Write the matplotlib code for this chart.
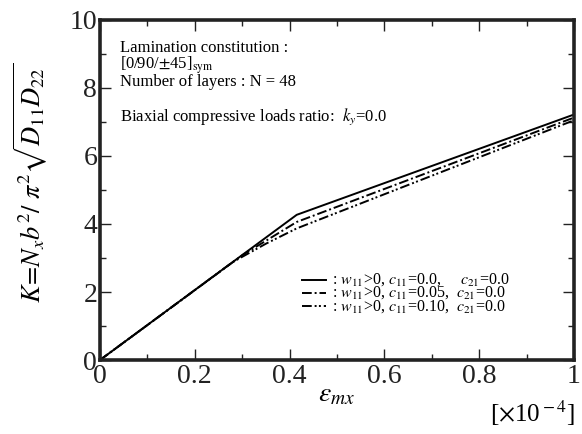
import matplotlib
matplotlib.use("Agg")
import matplotlib.pyplot as plt
from matplotlib.ticker import MultipleLocator, FuncFormatter

plt.rcParams['font.family'] = ['Liberation Serif', 'DejaVu Serif']
plt.rcParams['mathtext.fontset'] = 'stix'

# strain (x 1e-4) and buckling coefficient K
eps_c0 = [0.0, 0.415, 1.0]
k_c0 = [0.0, 4.27, 7.22]

eps_c05 = [0.0, 0.30, 0.415, 1.0]
k_c05 = [0.0, 3.08, 4.06, 7.13]

eps_c10 = [0.0, 0.28, 0.35, 0.415, 1.0]
k_c10 = [0.0, 2.88, 3.42, 3.87, 7.05]

labels = [r': $w_{\rm 11}$>0, $c_{\rm 11}$=0.0,     $c_{\rm 21}$=0.0',
          r': $w_{\rm 11}$>0, $c_{\rm 11}$=0.05,  $c_{\rm 21}$=0.0',
          r': $w_{\rm 11}$>0, $c_{\rm 11}$=0.10,  $c_{\rm 21}$=0.0']

fig = plt.figure(figsize=(5.82, 4.34), dpi=100)
ax = fig.add_axes([100/582, 1-360/434, 474/582, 340/434])

styles = ['-', (0, (5, 1.5, 1, 1.5)), (0, (5, 1.5, 1, 1.2, 1, 1.5))]
series = [(eps_c0, k_c0), (eps_c05, k_c05), (eps_c10, k_c10)]
for (x, y), ls in zip(series, styles):
    ax.plot(x, y, color='black', lw=1.4, ls=ls, solid_capstyle='butt')

ax.set_xlim(0, 1)
ax.set_ylim(0, 10)
ax.xaxis.set_major_locator(MultipleLocator(0.2))
ax.xaxis.set_minor_locator(MultipleLocator(0.1))
ax.yaxis.set_major_locator(MultipleLocator(2))
ax.yaxis.set_minor_locator(MultipleLocator(1))
ax.xaxis.set_major_formatter(FuncFormatter(lambda v, p: '%g' % v))
ax.yaxis.set_major_formatter(FuncFormatter(lambda v, p: '%g' % v))
ax.tick_params(which='both', direction='in', top=True, right=True,
               width=1.0, labelsize=20, colors='#222222')
ax.tick_params(which='major', length=8)
ax.tick_params(which='minor', length=4)
ax.tick_params(axis='y', pad=2)
ax.tick_params(axis='x', pad=3)
for s in ax.spines.values():
    s.set_linewidth(2.6)
    s.set_color('#222222')

ax.set_ylabel(r'$K\!=\!N_xb^2/\ \pi^2\sqrt{D_{11}D_{22}}$', fontsize=19)
ax.yaxis.set_label_coords(-0.105, 0.52)
ax.set_xlabel(r'$\varepsilon_{mx}$', fontsize=20, labelpad=-5)
fig.text(575/582, 1-413/434, r'[$\times$10$^{\rm -4}$]', fontsize=18,
         ha='right', va='center')

ax.text(0.042, 0.94, 'Lamination constitution :', transform=ax.transAxes,
        fontsize=12, va='top')
ax.text(0.042, 0.857, r'[0/90/$\pm$45]$_{\rm sym}$', transform=ax.transAxes,
        fontsize=12, va='baseline')
ax.text(0.042, 0.805, 'Number of layers : N = 48', transform=ax.transAxes,
        fontsize=12, va='baseline')
ax.text(0.042, 0.705, r'Biaxial compressive loads ratio:  $k_y$=0.0',
        transform=ax.transAxes, fontsize=12, va='baseline')

rows = [0.236, 0.197, 0.158]
for yy, ls, lab in zip(rows, styles, labels):
    ax.plot([0.426, 0.477], [yy, yy], transform=ax.transAxes, color='black',
            lw=1.4, ls=ls)
    ax.text(0.49, yy, lab, transform=ax.transAxes, fontsize=11.5, va='center')

fig.savefig('out.png', dpi=100)
